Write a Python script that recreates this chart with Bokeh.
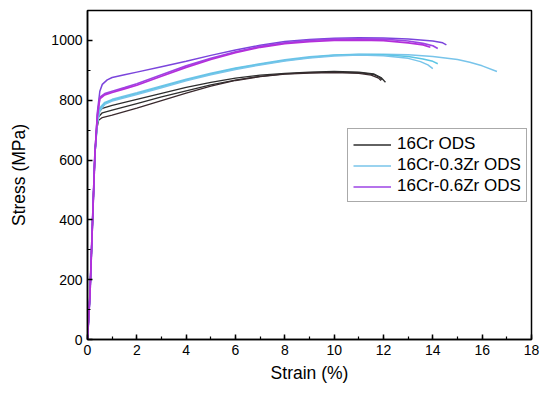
from bokeh.plotting import figure
from bokeh.models import Range1d, SingleIntervalTicker, Legend, LegendItem
from bokeh.embed import file_html
from bokeh.resources import INLINE

# ---- data (strain %, stress MPa) ----
cr_a_strain = [0, 0.1, 0.3, 0.38, 0.45, 0.6, 1.0, 2, 3, 4, 5, 6, 7, 8, 9, 10, 11, 11.6, 11.9, 12.08]
cr_a_stress = [0, 150, 620, 720, 760, 773, 783, 803, 823, 843, 860, 874, 884, 890, 894, 896, 894, 888, 876, 860]
cr_b_strain = [0, 0.1, 0.3, 0.38, 0.45, 0.6, 1.0, 2, 3, 4, 5, 6, 7, 8, 9, 10, 11, 11.6, 11.85, 11.95]
cr_b_stress = [0, 150, 620, 712, 745, 758, 767, 789, 811, 831, 851, 867, 880, 888, 892, 894, 892, 886, 876, 868]
cr_c_strain = [0, 0.1, 0.3, 0.38, 0.45, 0.6, 1.0, 2, 3, 4, 5, 6, 7, 8, 9, 10, 11, 11.5, 11.8, 11.9]
cr_c_stress = [0, 150, 620, 705, 733, 742, 750, 774, 799, 824, 847, 866, 879, 887, 891, 892, 890, 884, 874, 866]

zr3_a_strain = [0, 0.1, 0.3, 0.4, 0.5, 0.7, 1.0, 2, 3, 4, 5, 6, 7, 8, 9, 10, 11, 12, 13, 14, 15, 15.5, 16, 16.6]
zr3_a_stress = [0, 150, 620, 730, 775, 793, 803, 825, 848, 870, 890, 908, 922, 935, 945, 951, 954, 954, 952, 946, 936, 927, 915, 896]
zr3_b_strain = [0, 0.1, 0.3, 0.4, 0.5, 0.7, 1.0, 2, 3, 4, 5, 6, 7, 8, 9, 10, 11, 12, 13, 13.6, 14.0, 14.2]
zr3_b_stress = [0, 150, 620, 725, 770, 790, 800, 822, 845, 868, 888, 906, 920, 933, 943, 950, 953, 952, 946, 938, 930, 922]
zr3_c_strain = [0, 0.1, 0.3, 0.4, 0.5, 0.7, 1.0, 2, 3, 4, 5, 6, 7, 8, 9, 10, 11, 12, 13, 13.5, 13.8, 14.0]
zr3_c_stress = [0, 150, 620, 720, 765, 786, 797, 819, 842, 865, 885, 903, 918, 931, 941, 948, 951, 949, 940, 929, 918, 906]

zr6_a_strain = [0, 0.1, 0.3, 0.4, 0.5, 0.6, 0.8, 1.0, 1.5, 2, 3, 4, 5, 6, 7, 8, 9, 10, 11, 12, 13, 14, 14.4, 14.55]
zr6_a_stress = [0, 150, 620, 760, 830, 853, 868, 876, 885, 894, 912, 930, 950, 968, 984, 996, 1003, 1007, 1009, 1008, 1005, 998, 992, 985]
zr6_b_strain = [0, 0.1, 0.3, 0.4, 0.5, 0.7, 1.0, 1.5, 2, 3, 4, 5, 6, 7, 8, 9, 10, 11, 12, 13, 13.6, 14.0, 14.2]
zr6_b_stress = [0, 150, 620, 750, 810, 822, 830, 842, 855, 885, 915, 940, 962, 980, 992, 1000, 1004, 1005, 1004, 998, 990, 982, 973]
zr6_c_strain = [0, 0.1, 0.3, 0.4, 0.5, 0.7, 1.0, 1.5, 2, 3, 4, 5, 6, 7, 8, 9, 10, 11, 12, 13, 13.6, 13.9]
zr6_c_stress = [0, 150, 620, 745, 805, 818, 826, 838, 850, 880, 910, 936, 959, 977, 989, 996, 1000, 1001, 999, 992, 985, 977]

labels = ["16Cr ODS", "16Cr-0.3Zr ODS", "16Cr-0.6Zr ODS"]
x_ticks_interval = 2
y_ticks_interval = 200

FONT = "Liberation Sans"

p = figure(width=542, height=385, output_backend="svg", toolbar_location=None,
           x_range=Range1d(0, 18), y_range=Range1d(0, 1100),
           min_border_left=87, min_border_right=11, min_border_top=10, min_border_bottom=46)
p.grid.visible = False
p.outline_line_color = "black"
p.outline_line_width = 1.5
p.background_fill_color = "white"
p.border_fill_color = "white"

p.xaxis.ticker = SingleIntervalTicker(interval=x_ticks_interval, num_minor_ticks=2)
p.yaxis.ticker = SingleIntervalTicker(interval=y_ticks_interval, num_minor_ticks=2)
for ax in (p.xaxis, p.yaxis):
    ax.axis_line_width = 1.5
    ax.axis_line_color = "black"
    ax.major_tick_in = 5
    ax.major_tick_out = 0
    ax.minor_tick_in = 3
    ax.minor_tick_out = 0
    ax.major_tick_line_width = 1.5
    ax.minor_tick_line_width = 1.2
    ax.major_label_text_font = FONT
    ax.major_label_text_font_size = "14px"
    ax.major_label_text_color = "black"
    ax.axis_label_text_font = FONT
    ax.axis_label_text_font_size = "17.5px"
    ax.axis_label_text_font_style = "normal"
    ax.axis_label_text_color = "black"
    ax.major_label_standoff = 5
p.xaxis.axis_label = "Strain (%)"
p.yaxis.axis_label = "Stress (MPa)"
p.xaxis.axis_label_standoff = 5
p.yaxis.axis_label_standoff = 19

black = "#2e2e2e"
cyan1 = "#78c4ea"
cyan2 = "#5cc6e4"
purp1 = "#7b45dc"
purp2 = "#b42fda"
purp3 = "#9c45e4"

r_cr = p.line(cr_a_strain, cr_a_stress, line_color=black, line_width=1.3)
p.line(cr_b_strain, cr_b_stress, line_color=black, line_width=1.3)
p.line(cr_c_strain, cr_c_stress, line_color="#3a2a2e", line_width=1.3)

r_z3 = p.line(zr3_a_strain, zr3_a_stress, line_color=cyan1, line_width=1.5)
p.line(zr3_b_strain, zr3_b_stress, line_color=cyan2, line_width=1.5)
p.line(zr3_c_strain, zr3_c_stress, line_color=cyan1, line_width=1.5)

p.line(zr6_a_strain, zr6_a_stress, line_color=purp1, line_width=1.5)
r_z6 = p.line(zr6_b_strain, zr6_b_stress, line_color=purp3, line_width=1.7)
p.line(zr6_c_strain, zr6_c_stress, line_color=purp2, line_width=1.7)

legend = Legend(items=[LegendItem(label=labels[0], renderers=[r_cr]),
                       LegendItem(label=labels[1], renderers=[r_z3]),
                       LegendItem(label=labels[2], renderers=[r_z6])],
                location=(260, 137))
legend.label_text_font = FONT
legend.label_text_font_size = "17px"
legend.label_text_color = "black"
legend.glyph_width = 38
legend.glyph_height = 19
legend.label_height = 19
legend.label_standoff = 6
legend.spacing = 1
legend.padding = 5
legend.margin = 0
legend.border_line_color = "#555555"
legend.border_line_width = 1.2
legend.background_fill_alpha = 1
p.add_layout(legend, "center")

open("out.html", "w").write(file_html(p, INLINE))
